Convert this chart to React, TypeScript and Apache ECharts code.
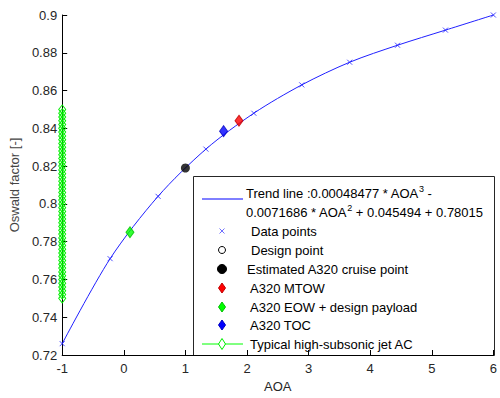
import React, { useEffect, useRef } from "react";
import * as echarts from "echarts";

// Angle of attack sample points and their Oswald factors
const aoaPoints = [-1, -0.222, 0.556, 1.333, 2.111, 2.889, 3.667, 4.444, 5.222, 6];
const oswaldPoints = [0.726, 0.771, 0.804, 0.829, 0.848, 0.863, 0.875, 0.884, 0.892, 0.9];

// Single operating points [AOA, Oswald factor]
const designPoint: number[][] = [];
const cruisePoint = [[1.0, 0.819]];
const mtowPoint = [[1.87, 0.844]];
const eowPoint = [[0.1, 0.785]];
const tocPoint = [[1.62, 0.8385]];

// Range of Oswald factors for typical high-subsonic jets, plotted at AOA = -1
const typicalAoa = -1;
const typicalOswald = [
  0.75, 0.752, 0.754, 0.756, 0.758, 0.76, 0.762, 0.764, 0.766, 0.768, 0.77, 0.772, 0.774,
  0.776, 0.778, 0.78, 0.782, 0.784, 0.786, 0.788, 0.79, 0.792, 0.794, 0.796, 0.798, 0.8,
  0.802, 0.804, 0.806, 0.808, 0.81, 0.812, 0.814, 0.816, 0.818, 0.82, 0.822, 0.824, 0.826,
  0.828, 0.83, 0.832, 0.834, 0.836, 0.838, 0.84, 0.842, 0.844, 0.846, 0.848, 0.85,
];

const FONT = "'Liberation Sans', Arial, Helvetica, sans-serif";
const FS = 13;
const TEXT = "#262626";
const CROSS = "path://M0,0L10,10M10,0L0,10";

function diamond(cx: number, cy: number, w: number, h: number) {
  return [
    [cx, cy - h / 2],
    [cx + w / 2, cy],
    [cx, cy + h / 2],
    [cx - w / 2, cy],
  ];
}

function legendGraphic() {
  const mx = 222;
  const label = (x: number, y: number, text: string) => ({
    type: "text",
    x,
    y,
    style: { text, fill: "#000", font: `${FS}px ${FONT}`, textVerticalAlign: "middle" },
  });
  return {
    type: "group",
    z: 100,
    children: [
      {
        type: "rect",
        shape: { x: 193.5, y: 176.5, width: 301, height: 179 },
        style: { fill: "#fff", stroke: "#262626", lineWidth: 1 },
      },
      {
        type: "line",
        shape: { x1: 202, y1: 199, x2: 243, y2: 199 },
        style: { stroke: "#0000ff", lineWidth: 1 },
      },
      {
        type: "text",
        x: 246,
        y: 184,
        style: {
          text:
            "{t|Trend line :0.00048477 * AOA}{s|3}{t| -}\n{t|0.0071686 * AOA}{s|2}{t| + 0.045494 + 0.78015}",
          fill: "#000",
          rich: {
            t: { fontSize: FS, fontFamily: FONT, lineHeight: 19, fill: "#000" },
            s: {
              fontSize: 9,
              fontFamily: FONT,
              lineHeight: 8,
              verticalAlign: "top",
              fill: "#000",
            },
          },
        },
      },
      {
        type: "group",
        children: [
          {
            type: "line",
            shape: { x1: mx - 2.5, y1: 228.5, x2: mx + 2.5, y2: 233.5 },
            style: { stroke: "#7070ff", lineWidth: 1 },
          },
          {
            type: "line",
            shape: { x1: mx + 2.5, y1: 228.5, x2: mx - 2.5, y2: 233.5 },
            style: { stroke: "#7070ff", lineWidth: 1 },
          },
        ],
      },
      label(251, 231, "Data points"),
      {
        type: "circle",
        shape: { cx: mx, cy: 250, r: 3.5 },
        style: { fill: "#fff", stroke: "#000", lineWidth: 1 },
      },
      label(251, 250, "Design point"),
      {
        type: "circle",
        shape: { cx: mx, cy: 269, r: 4.5 },
        style: { fill: "#000", stroke: "#000", lineWidth: 1 },
      },
      label(247, 269, "Estimated A320 cruise point"),
      {
        type: "polygon",
        shape: { points: diamond(mx, 288, 7, 10) },
        style: { fill: "#ff0000", stroke: "#c00000", lineWidth: 1 },
      },
      label(250, 288, "A320 MTOW"),
      {
        type: "polygon",
        shape: { points: diamond(mx, 307, 7, 10) },
        style: { fill: "#00ff00", stroke: "#00c000", lineWidth: 1 },
      },
      label(250, 307, "A320 EOW + design payload"),
      {
        type: "polygon",
        shape: { points: diamond(mx, 325, 7, 10) },
        style: { fill: "#0000ff", stroke: "#0000c0", lineWidth: 1 },
      },
      label(250, 325, "A320 TOC"),
      {
        type: "line",
        shape: { x1: 202, y1: 344, x2: 243, y2: 344 },
        style: { stroke: "#00ff00", lineWidth: 1 },
      },
      {
        type: "polygon",
        shape: { points: diamond(mx, 344, 7, 11) },
        style: { fill: "#fff", stroke: "#00ee00", lineWidth: 1 },
      },
      label(250, 344, "Typical high-subsonic jet AC"),
    ],
  };
}

export default function App() {
  const ref = useRef<HTMLDivElement>(null);

  useEffect(() => {
    if (!ref.current) return;
    const chart = echarts.init(ref.current, undefined, { renderer: "svg" });

    const trend = aoaPoints.map((x, i) => [x, oswaldPoints[i]]);
    const typical = typicalOswald.map((y) => [typicalAoa, y]);

    chart.setOption({
      animation: false,
      backgroundColor: "#fff",
      textStyle: { fontFamily: FONT },
      grid: { left: 60, right: 3, top: 15, bottom: 37, containLabel: false },
      xAxis: {
        type: "value",
        min: -1,
        max: 6,
        interval: 1,
        name: "AOA",
        nameLocation: "middle",
        nameGap: 25,
        nameTextStyle: { color: TEXT, fontSize: FS, fontFamily: FONT },
        axisLine: { show: true, onZero: false, lineStyle: { color: "#000", width: 1 } },
        axisTick: { show: true, inside: true, length: 5, lineStyle: { color: "#000" } },
        axisLabel: { color: TEXT, fontSize: FS, fontFamily: FONT, margin: 7 },
        splitLine: { show: false },
      },
      yAxis: {
        type: "value",
        min: 0.72,
        max: 0.9,
        interval: 0.02,
        name: "Oswald factor [-]",
        nameLocation: "middle",
        nameGap: 34,
        nameTextStyle: { color: "#444", fontSize: FS, fontFamily: FONT },
        axisLine: { show: true, onZero: false, lineStyle: { color: "#000", width: 1 } },
        axisTick: { show: true, inside: true, length: 5, lineStyle: { color: "#000" } },
        axisLabel: {
          color: TEXT,
          fontSize: FS,
          fontFamily: FONT,
          margin: 5,
          formatter: (v: number) => String(+v.toFixed(2)),
        },
        splitLine: { show: false },
      },
      series: [
        {
          name: "Trend line",
          type: "line",
          data: trend,
          smooth: 0.3,
          showSymbol: false,
          lineStyle: { color: "#2020ff", width: 1 },
          clip: false,
          z: 2,
        },
        {
          name: "Data points",
          type: "scatter",
          data: trend,
          symbol: CROSS,
          symbolSize: 5,
          itemStyle: { color: "transparent", borderColor: "#2020ff", borderWidth: 1 },
          clip: false,
          z: 3,
        },
        {
          name: "Design point",
          type: "scatter",
          data: designPoint,
          symbol: "circle",
          symbolSize: 7,
          itemStyle: { color: "#fff", borderColor: "#000", borderWidth: 1 },
        },
        {
          name: "Estimated A320 cruise point",
          type: "scatter",
          data: cruisePoint,
          symbol: "circle",
          symbolSize: 9,
          itemStyle: { color: "#000" },
          z: 4,
        },
        {
          name: "A320 MTOW",
          type: "scatter",
          data: mtowPoint,
          symbol: "diamond",
          symbolSize: [8, 11],
          itemStyle: { color: "#ff0000", borderColor: "#c00000", borderWidth: 1 },
          z: 4,
        },
        {
          name: "A320 EOW + design payload",
          type: "scatter",
          data: eowPoint,
          symbol: "diamond",
          symbolSize: [8, 11],
          itemStyle: { color: "#00ff00", borderColor: "#00c000", borderWidth: 1 },
          z: 4,
        },
        {
          name: "A320 TOC",
          type: "scatter",
          data: tocPoint,
          symbol: "diamond",
          symbolSize: [8, 11],
          itemStyle: { color: "#0000ff", borderColor: "#0000c0", borderWidth: 1 },
          z: 4,
        },
        {
          name: "Typical high-subsonic jet AC",
          type: "line",
          data: typical,
          symbol: "diamond",
          symbolSize: [7, 9],
          showAllSymbol: true,
          lineStyle: { color: "#00ff00", width: 1 },
          itemStyle: { color: "transparent", borderColor: "#00ee00", borderWidth: 1 },
          clip: false,
          z: 5,
        },
      ],
      graphic: [legendGraphic()],
    });

    return () => chart.dispose();
  }, []);

  return (
    <div
      ref={ref}
      style={{ position: "absolute", left: 0, top: 0, width: 500, height: 398 }}
    />
  );
}
